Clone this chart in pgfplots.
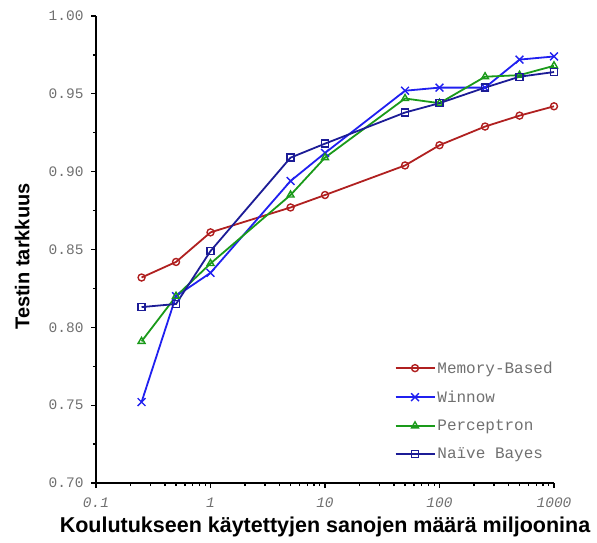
\documentclass[border=0pt]{standalone}
\usepackage{fontspec}
\setmainfont{Liberation Sans}
\setmonofont{Liberation Mono}
\usepackage{pgfplots}
\pgfplotsset{compat=1.18}
\definecolor{cMB}{HTML}{B02020}
\definecolor{cWI}{HTML}{2020F0}
\definecolor{cPE}{HTML}{1A9A1A}
\definecolor{cNB}{HTML}{1C1C96}
\definecolor{tickgray}{HTML}{707070}
\begin{document}
\begin{tikzpicture}
\path[use as bounding box] (-96pt,-59pt) rectangle (501pt,483pt);
\begin{axis}[
  at={(0,0)}, anchor=south west,
  scale only axis, width=458pt, height=467pt,
  xmode=log, xmin=0.1, xmax=1000,
  ymin=0.70, ymax=1.00,
  axis lines=left, axis line style={-, line width=1.8pt},
  xtick={0.1,1,10,100,1000},
  xticklabels={0.1,1,10,100,1000},
  minor xtick={},
  ytick={0.70,0.75,0.80,0.85,0.90,0.95,1.00},
  yticklabels={0.70,0.75,0.80,0.85,0.90,0.95,1.00},
  minor ytick={0.725,0.775,0.825,0.875,0.925,0.975},
  tick align=outside,
  major tick length=5pt, minor tick length=3pt,
  tick style={line width=1.3pt, black},
  xticklabel style={font=\fontsize{14.5}{16}\selectfont\ttfamily\itshape, text=tickgray, yshift=-6pt},
  yticklabel style={font=\fontsize{14.5}{16}\selectfont\ttfamily, text=tickgray, xshift=-4pt},
  xlabel={Koulutukseen käytettyjen sanojen määrä miljoonina},
  ylabel={Testin tarkkuus},
  xlabel style={at={(axis description cs:0.5,-0.0942)}, anchor=center, font=\fontsize{21.5}{24}\selectfont\bfseries},
  ylabel style={at={(axis description cs:-0.161,0.485)}, anchor=center, font=\fontsize{20}{22}\selectfont\bfseries},
  legend style={at={(axis description cs:0.645,0.269)}, anchor=north west, draw=none, fill=none,
    font=\fontsize{16}{18}\selectfont\ttfamily, text=tickgray, row sep=12pt,
    /tikz/every even column/.append style={column sep=3pt}},
  legend cell align=left,
  legend image code/.code={\draw[mark repeat=2,mark phase=2] plot coordinates {(0pt,0pt)(19.5pt,0pt)(39pt,0pt)};},
  every axis plot/.append style={line width=1.8pt, mark size=3.5pt, mark options={solid, line width=1.4pt}},
]
\addplot[color=cMB, mark=o] coordinates {
 (0.25,0.832) (0.5,0.842) (1,0.861) (5,0.877) (10,0.885) (50,0.904) (100,0.917) (250,0.929) (500,0.936) (1000,0.942)};
\addlegendentry{Memory-Based}
\addplot[color=cWI, mark=x, mark size=5.5pt] coordinates {
 (0.25,0.752) (0.5,0.820) (1,0.835) (5,0.894) (10,0.912) (50,0.952) (100,0.954) (250,0.954) (500,0.972) (1000,0.974)};
\addlegendentry{Winnow}
\addplot[color=cPE, mark=triangle, mark size=4pt] coordinates {
 (0.25,0.791) (0.5,0.820) (1,0.841) (5,0.885) (10,0.909) (50,0.947) (100,0.944) (250,0.961) (500,0.962) (1000,0.968)};
\addlegendentry{Perceptron}
\addplot[color=cNB, mark=square] coordinates {
 (0.25,0.813) (0.5,0.815) (1,0.849) (5,0.909) (10,0.918) (50,0.938) (100,0.944) (250,0.954) (500,0.961) (1000,0.964)};
\addlegendentry{Naïve Bayes}
\end{axis}
\end{tikzpicture}
\end{document}
